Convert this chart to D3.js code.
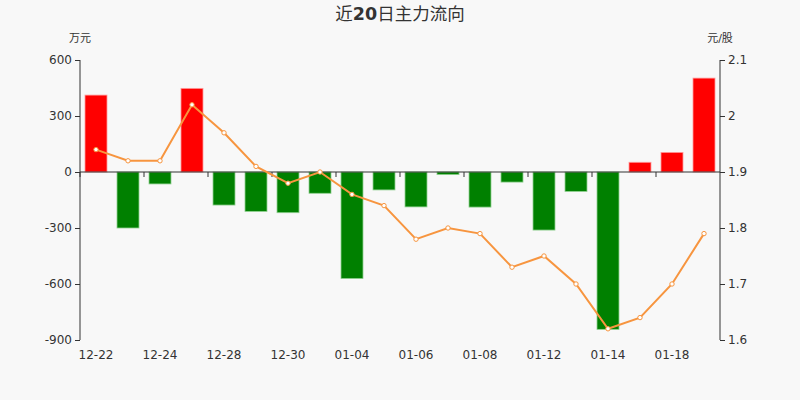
<!DOCTYPE html>
<html>
<head>
<meta charset="utf-8">
<script src="https://cdn.jsdelivr.net/npm/d3@7"></script>
<style>
  html, body { margin: 0; padding: 0; background: #f8f8f8; }
  #chart { width: 800px; height: 400px; }
  text { font-family: "DejaVu Sans", "Noto Sans CJK SC", sans-serif; fill: #333; }
</style>
</head>
<body>
<div id="chart"></div>
<script>
// 日期
const dates = ['12-22', '12-23', '12-24', '12-27', '12-28', '12-29', '12-30', '12-31',
    '01-04', '01-05', '01-06', '01-07', '01-08', '01-11', '01-12', '01-13',
    '01-14', '01-15', '01-18', '01-19'];
// 主力净流入（万元）
const flows = [412, -300, -64, 448, -177, -211, -218, -114, -571, -96,
    -187, -14, -188, -54, -311, -104, -843, 52, 105, 503];
// 股价（元/股）
const prices = [1.94, 1.92, 1.92, 2.02, 1.97, 1.91, 1.88, 1.90, 1.86, 1.84,
    1.78, 1.80, 1.79, 1.73, 1.75, 1.70, 1.62, 1.64, 1.70, 1.79];
const leftTicks = [600, 300, 0, -300, -600, -900];
const rightTicks = [2.1, 2.0, 1.9, 1.8, 1.7, 1.6];

const width = 800, height = 400;
const margin = { top: 60, right: 80, bottom: 60, left: 80 };

const svg = d3.select('#chart').append('svg')
    .attr('width', width)
    .attr('height', height);

// 标题（数字加粗，汉字常规）
const title = svg.append('text')
    .attr('x', width / 2)
    .attr('y', 20)
    .attr('text-anchor', 'middle')
    .style('font-size', '17.5px');
title.append('tspan').text('近');
title.append('tspan').style('font-weight', 'bold').text('20');
title.append('tspan').text('日主力流向');

const x = d3.scaleBand()
    .domain(dates)
    .range([margin.left, width - margin.right]);

const yL = d3.scaleLinear()
    .domain([-900, 600])
    .range([height - margin.bottom, margin.top]);

const yR = d3.scaleLinear()
    .domain([1.6, 2.1])
    .range([height - margin.bottom, margin.top]);

const barW = 22;

// 柱子
svg.append('g').selectAll('rect')
    .data(flows)
    .join('rect')
    .attr('x', (d, i) => x(dates[i]) + x.bandwidth() / 2 - barW / 2)
    .attr('y', d => d >= 0 ? yL(d) : yL(0))
    .attr('width', barW)
    .attr('height', d => Math.abs(yL(d) - yL(0)))
    .attr('fill', d => d >= 0 ? '#ff0000' : '#008000')
    .attr('stroke', d => d >= 0 ? '#ff9999' : '#8fd08f')
    .attr('stroke-width', 0.8);

// 左轴
const axisL = svg.append('g')
    .attr('transform', `translate(${margin.left},0)`)
    .call(d3.axisLeft(yL).tickValues(leftTicks).tickSize(5).tickPadding(3)
        .tickFormat(d => String(d)));

// 右轴
const axisR = svg.append('g')
    .attr('transform', `translate(${width - margin.right},0)`)
    .call(d3.axisRight(yR).tickValues(rightTicks).tickSize(5).tickPadding(3)
        .tickFormat(d => String(+d.toFixed(1))));

// 底轴（零线）
const axisB = svg.append('g')
    .attr('transform', `translate(0,${yL(0)})`)
    .call(d3.axisBottom(x).tickSize(5).tickFormat(''));
axisB.selectAll('.tick').filter((d, i) => i % 2 === 1).remove();
axisB.selectAll('.tick line').attr('transform', `translate(${-x.bandwidth() / 2},0)`);

// 底部标签
svg.append('g').selectAll('text')
    .data(dates.filter((d, i) => i % 2 === 0))
    .join('text')
    .attr('x', d => x(d) + x.bandwidth() / 2)
    .attr('y', height - margin.bottom + 19)
    .attr('text-anchor', 'middle')
    .style('font-size', '12px')
    .text(d => d);

[axisL, axisR, axisB].forEach(a => {
    a.select('.domain').attr('stroke', '#333');
    a.selectAll('.tick line').attr('stroke', '#333');
    a.selectAll('.tick text').style('font-size', '12px').attr('fill', '#333');
});
axisL.select('.domain').attr('d', `M0,${margin.top}V${height - margin.bottom}`);
axisR.select('.domain').attr('d', `M0,${margin.top}V${height - margin.bottom}`);
axisB.select('.domain').attr('d', `M${margin.left},0H${width - margin.right}`);

// 单位
svg.append('text')
    .attr('x', 80).attr('y', 42)
    .attr('text-anchor', 'middle')
    .style('font-size', '11px')
    .text('万元');
svg.append('text')
    .attr('x', 720).attr('y', 42)
    .attr('text-anchor', 'middle')
    .style('font-size', '11px')
    .text('元/股');

// 股价折线
const line = d3.line()
    .x((d, i) => x(dates[i]) + x.bandwidth() / 2)
    .y(d => yR(d));

svg.append('path')
    .datum(prices)
    .attr('fill', 'none')
    .attr('stroke', '#f7953f')
    .attr('stroke-width', 2)
    .attr('d', line);

svg.append('g').selectAll('circle')
    .data(prices)
    .join('circle')
    .attr('cx', (d, i) => x(dates[i]) + x.bandwidth() / 2)
    .attr('cy', d => yR(d))
    .attr('r', 2.2)
    .attr('fill', '#fff')
    .attr('stroke', '#f7953f')
    .attr('stroke-width', 1);
</script>
</body>
</html>
